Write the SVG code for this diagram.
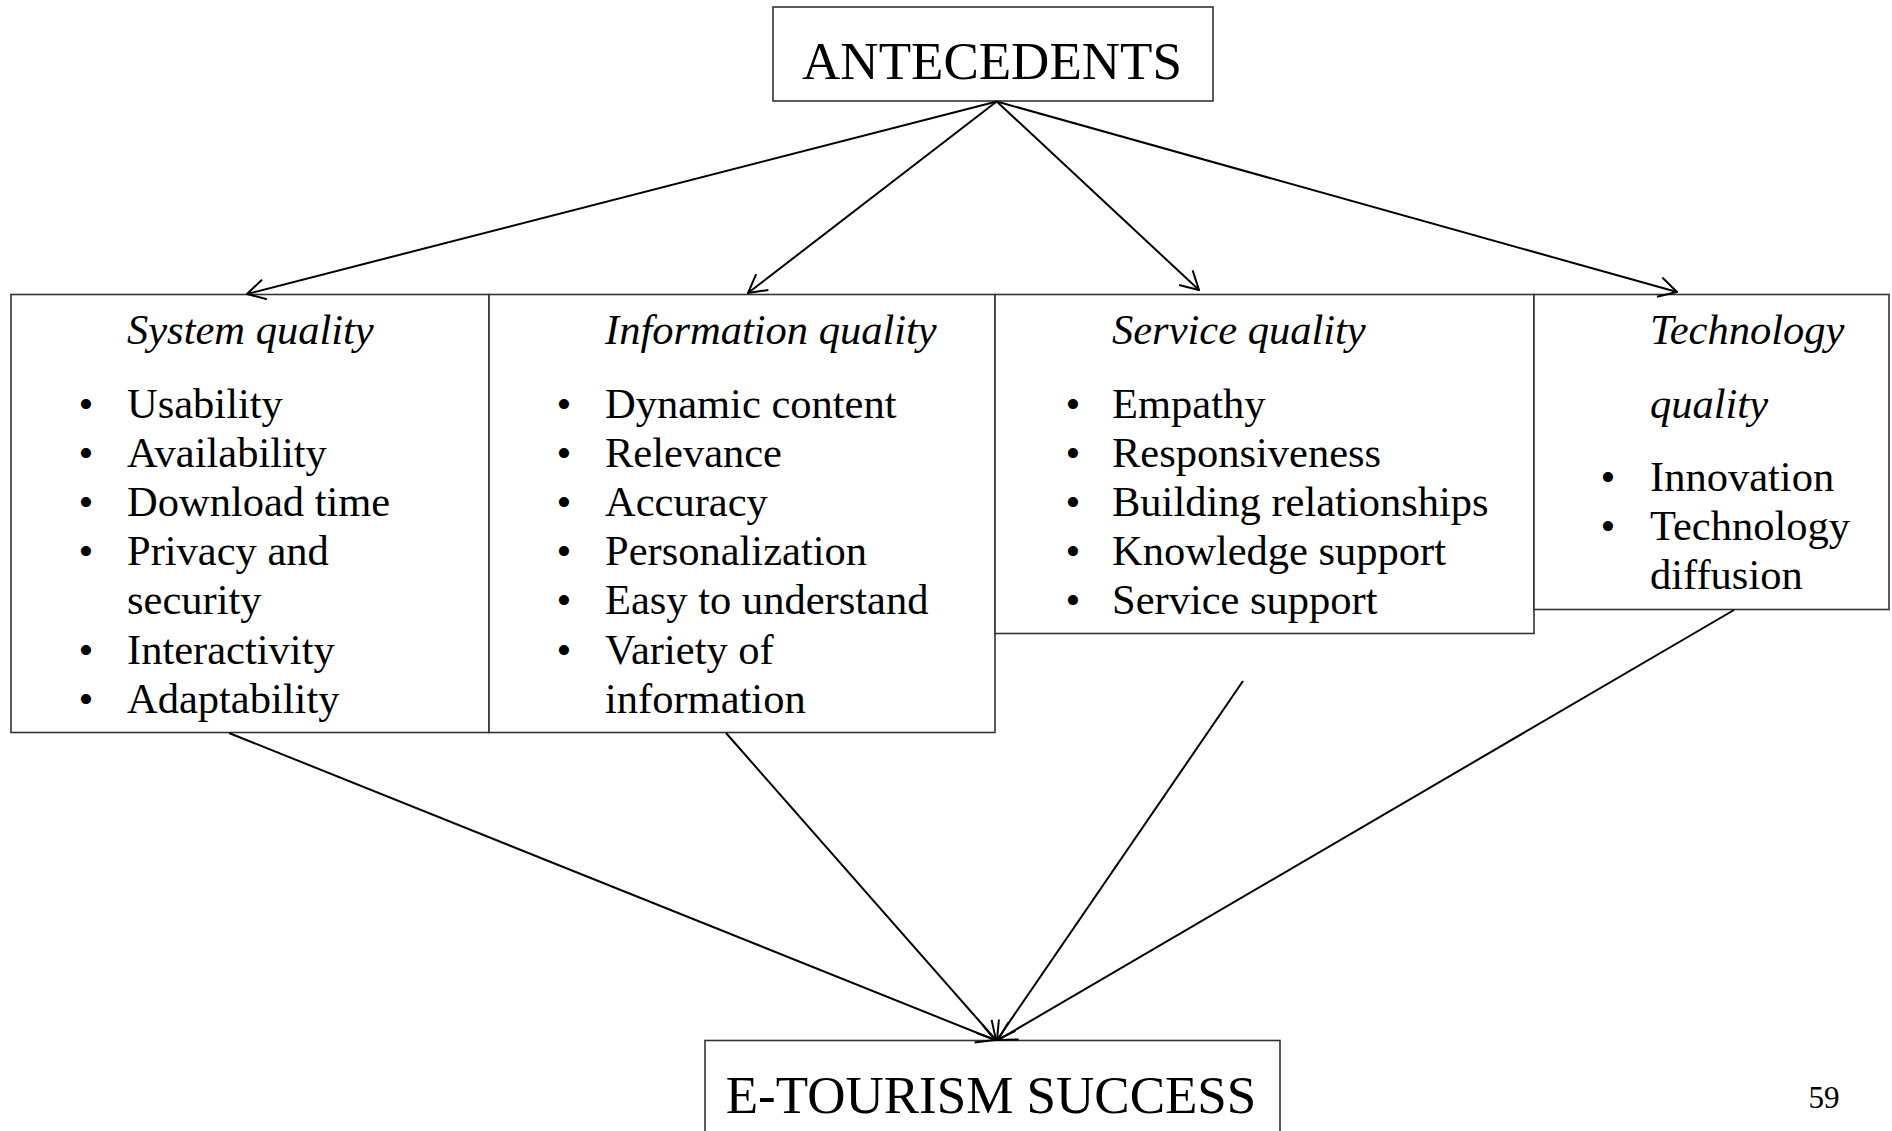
<svg xmlns="http://www.w3.org/2000/svg" width="1892" height="1131" viewBox="0 0 1892 1131">
<style>
.box{fill:#fff;stroke:#333;stroke-width:1.6}
.t{font-family:"Liberation Serif","Times New Roman",serif;fill:#000}
.big{font-size:53px}
.h{font-size:42.5px;font-style:italic}
.b{font-size:42.5px}
.bul{font-size:42.5px;text-anchor:middle}
.edge{stroke:#000;stroke-width:2;fill:none;marker-end:url(#arr)}
</style>
<defs>
<marker id="arr" markerUnits="userSpaceOnUse" viewBox="0 0 20 22" refX="19" refY="11" markerWidth="20" markerHeight="22" orient="auto">
<path d="M1,1 L19,11 L1,21" fill="none" stroke="#000" stroke-width="2"/>
</marker>
</defs>
<rect width="1892" height="1131" fill="#fff"/>
<g id="antecedents">
<rect class="box" x="773" y="7" width="440" height="94"/>
<text class="t big" x="992" y="79" text-anchor="middle">ANTECEDENTS</text>
</g>
<g id="system-quality">
<rect class="box" x="11" y="294.5" width="478" height="438"/>
<text class="t h" x="127" y="344">System quality</text>
<text class="t bul" x="86" y="418">•</text><text class="t b" x="127" y="418">Usability</text>
<text class="t bul" x="86" y="467">•</text><text class="t b" x="127" y="467">Availability</text>
<text class="t bul" x="86" y="516">•</text><text class="t b" x="127" y="516">Download time</text>
<text class="t bul" x="86" y="565">•</text><text class="t b" x="127" y="565">Privacy and</text>
<text class="t b" x="127" y="614">security</text>
<text class="t bul" x="86" y="664">•</text><text class="t b" x="127" y="664">Interactivity</text>
<text class="t bul" x="86" y="713">•</text><text class="t b" x="127" y="713">Adaptability</text>
</g>
<g id="information-quality">
<rect class="box" x="489" y="294.5" width="506" height="438"/>
<text class="t h" x="605" y="344">Information quality</text>
<text class="t bul" x="564" y="418">•</text><text class="t b" x="605" y="418">Dynamic content</text>
<text class="t bul" x="564" y="467">•</text><text class="t b" x="605" y="467">Relevance</text>
<text class="t bul" x="564" y="516">•</text><text class="t b" x="605" y="516">Accuracy</text>
<text class="t bul" x="564" y="565">•</text><text class="t b" x="605" y="565">Personalization</text>
<text class="t bul" x="564" y="614">•</text><text class="t b" x="605" y="614">Easy to understand</text>
<text class="t bul" x="564" y="664">•</text><text class="t b" x="605" y="664">Variety of</text>
<text class="t b" x="605" y="713">information</text>
</g>
<g id="service-quality">
<rect class="box" x="995" y="294.5" width="539" height="339"/>
<text class="t h" x="1112" y="344">Service quality</text>
<text class="t bul" x="1073" y="418">•</text><text class="t b" x="1112" y="418">Empathy</text>
<text class="t bul" x="1073" y="467">•</text><text class="t b" x="1112" y="467">Responsiveness</text>
<text class="t bul" x="1073" y="516">•</text><text class="t b" x="1112" y="516">Building relationships</text>
<text class="t bul" x="1073" y="565">•</text><text class="t b" x="1112" y="565">Knowledge support</text>
<text class="t bul" x="1073" y="614">•</text><text class="t b" x="1112" y="614">Service support</text>
</g>
<g id="technology-quality">
<rect class="box" x="1534" y="294.5" width="355" height="315"/>
<text class="t h" x="1650" y="344">Technology</text>
<text class="t h" x="1650" y="418">quality</text>
<text class="t bul" x="1608" y="491">•</text><text class="t b" x="1650" y="491">Innovation</text>
<text class="t bul" x="1608" y="540">•</text><text class="t b" x="1650" y="540">Technology</text>
<text class="t b" x="1650" y="589">diffusion</text>
</g>
<g id="etourism-success">
<rect class="box" x="705" y="1040.5" width="575" height="100"/>
<text class="t big" x="991" y="1113" text-anchor="middle">E-TOURISM SUCCESS</text>
</g>
<g id="page-number">
<text class="t" x="1824" y="1108" font-size="31" text-anchor="middle">59</text>
</g>
<g id="connectors">
<line class="edge" x1="996.7" y1="101.5" x2="247" y2="294"/>
<line class="edge" x1="996.7" y1="101.5" x2="748" y2="293"/>
<line class="edge" x1="996.7" y1="101.5" x2="1199" y2="290"/>
<line class="edge" x1="996.7" y1="101.5" x2="1677" y2="292"/>
<line class="edge" x1="229" y1="733" x2="995" y2="1040"/>
<line class="edge" x1="726" y1="733" x2="996" y2="1040"/>
<line class="edge" x1="1243" y1="681" x2="997" y2="1040"/>
<line class="edge" x1="1734" y1="610" x2="998" y2="1040"/>
</g>
</svg>
